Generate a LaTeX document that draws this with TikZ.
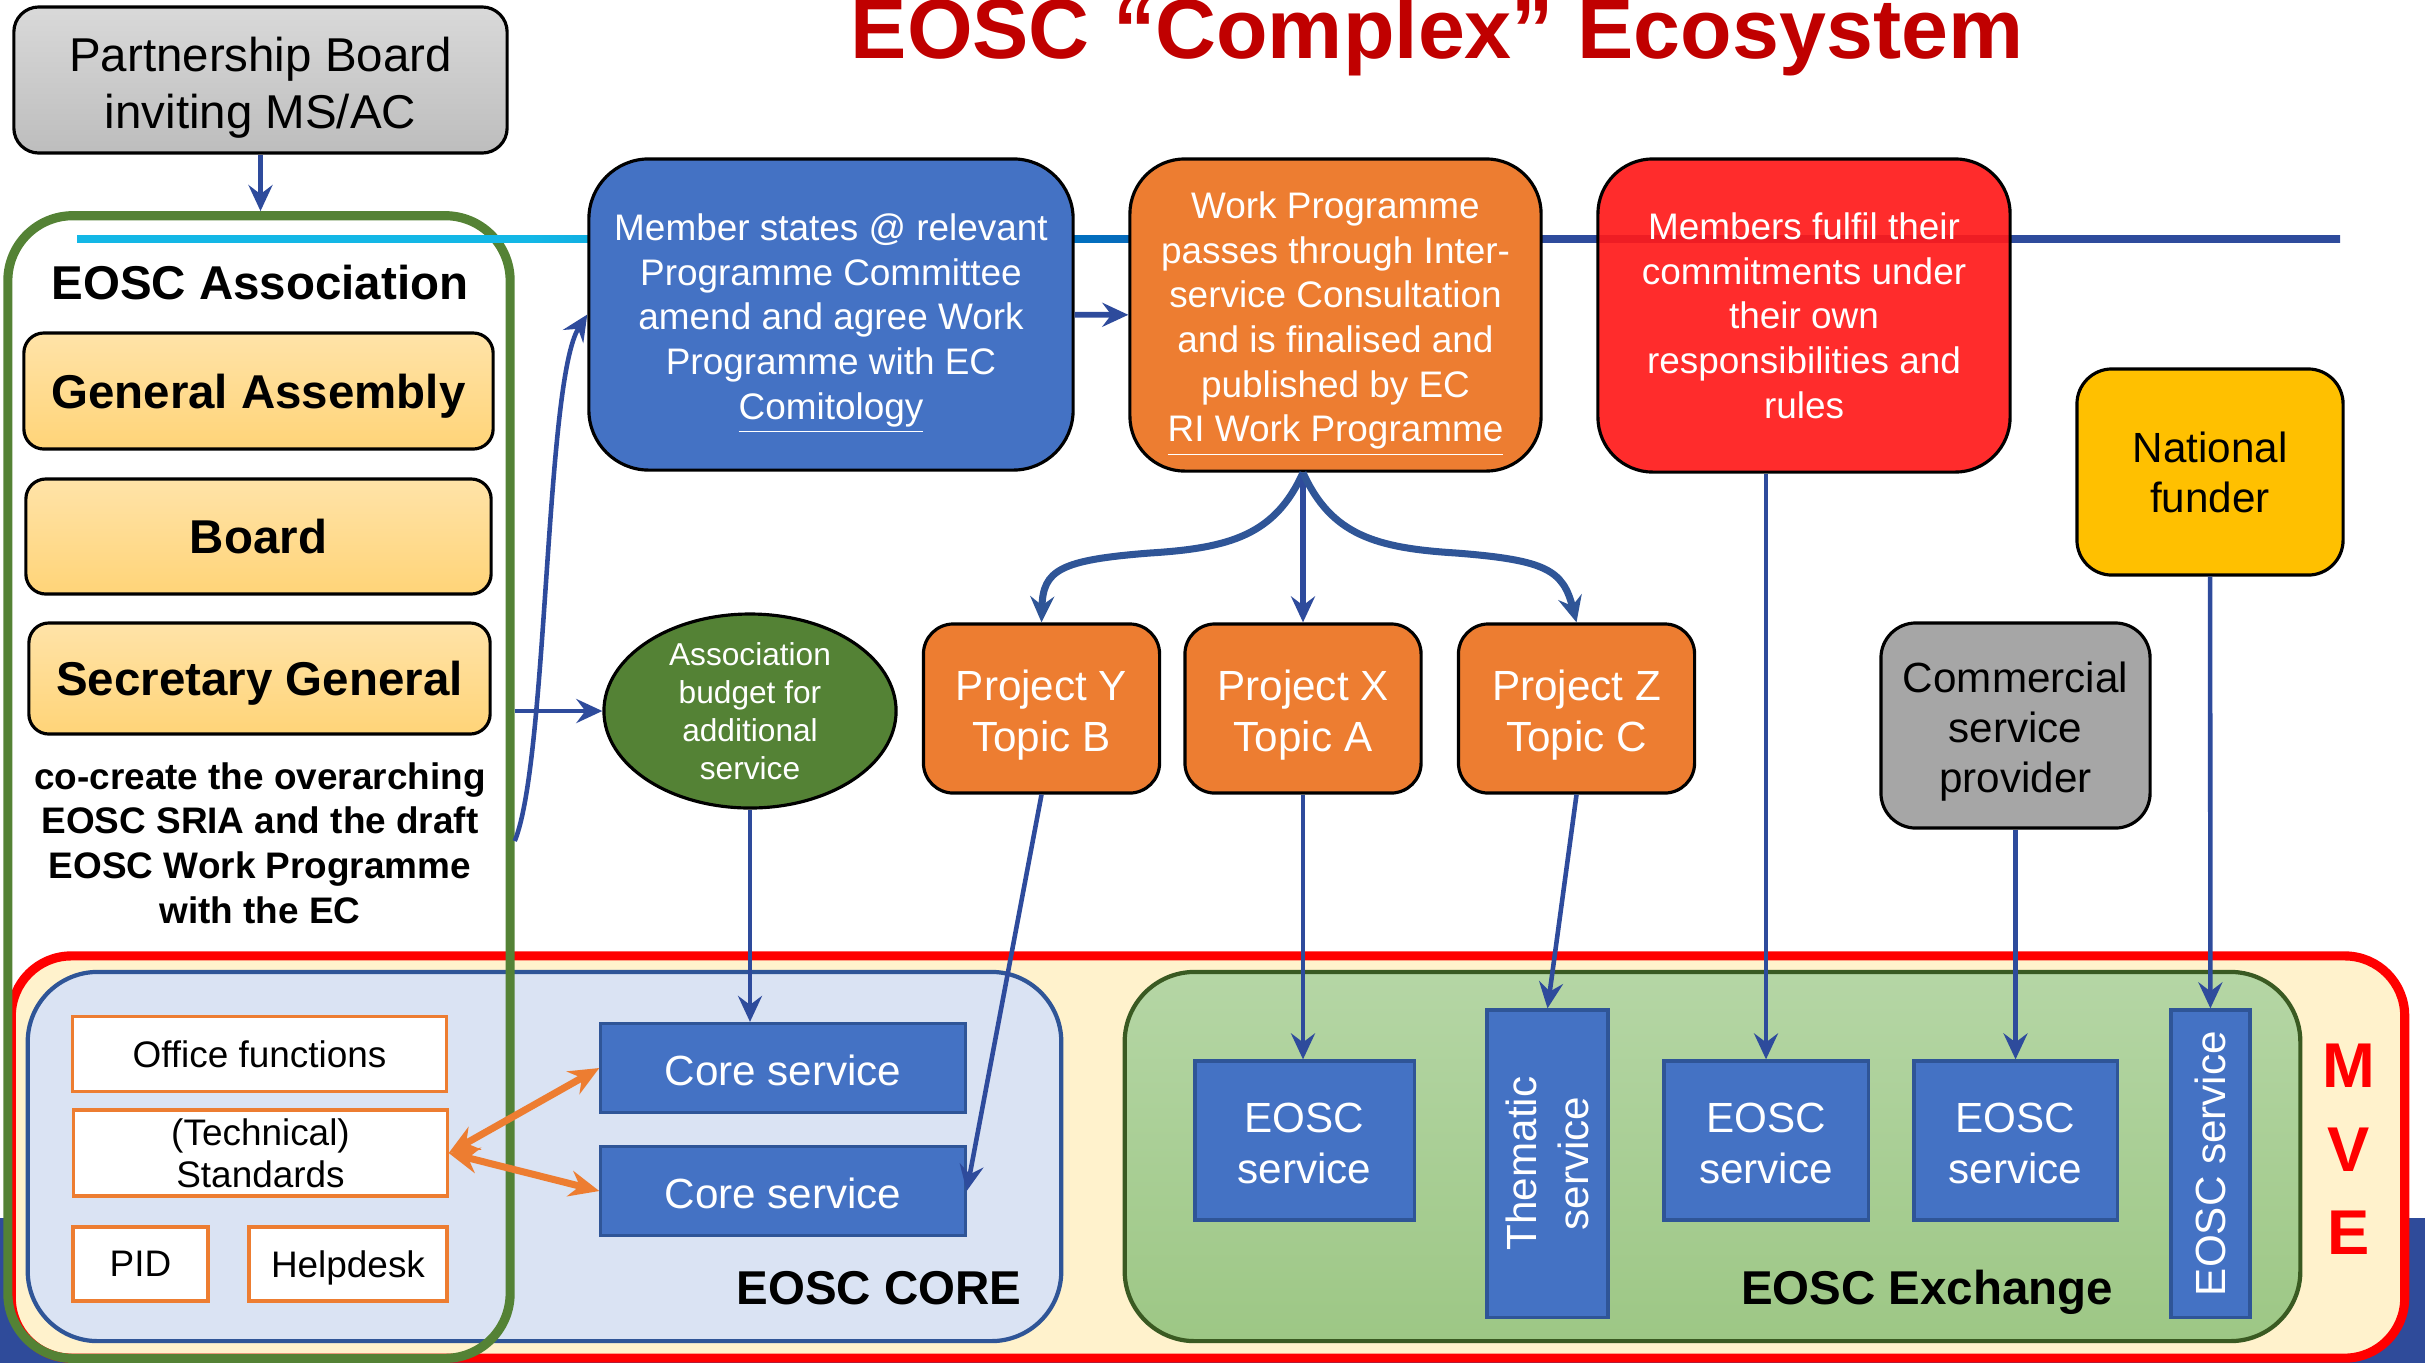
\documentclass[tikz,border=0pt]{standalone}
\usepackage{fontspec}
\setmainfont{Liberation Sans}
\usetikzlibrary{arrows.meta,shapes.geometric}

\definecolor{titlered}{HTML}{C00000}
\definecolor{boxblue}{HTML}{4472C4}
\definecolor{edgeblue}{HTML}{2F5597}
\definecolor{arrowblue}{HTML}{2E4B9C}
\definecolor{wporange}{HTML}{ED7D31}
\definecolor{memred}{HTML}{FF1A1A}
\definecolor{funder}{HTML}{FFC000}
\definecolor{assocgreen}{HTML}{548235}
\definecolor{mvefill}{HTML}{FFF2CC}
\definecolor{corefill}{HTML}{DAE3F3}
\definecolor{exchtop}{HTML}{B5D6A5}
\definecolor{exchbot}{HTML}{9DC785}
\definecolor{exchedge}{HTML}{3A5A22}
\definecolor{gatop}{HTML}{FFE3A8}
\definecolor{gabot}{HTML}{FFD478}
\definecolor{pbtop}{HTML}{D9D9D9}
\definecolor{pbbot}{HTML}{BDBDBD}
\definecolor{commgray}{HTML}{A6A6A6}
\definecolor{linecyan}{HTML}{13B7E6}
\definecolor{linemid}{HTML}{0070C0}
\definecolor{bandblue}{HTML}{2F4B9A}

\pgfdeclarehorizontalshading{topline}{100bp}{color(0bp)=(linecyan); color(35bp)=(linecyan); color(47bp)=(linemid); color(56bp)=(arrowblue); color(100bp)=(arrowblue)}

\newcommand\txthead{\fontsize{13.5}{16.2}\selectfont}
\newcommand\txtbody{\fontsize{10.5}{12.7}\selectfont}
\newcommand\txtmid{\fontsize{12}{14.4}\selectfont}
\newcommand\txttiny{\fontsize{9}{10.8}\selectfont}
\newcommand\topgap[1]{\rule{0pt}{#1}}

\begin{document}
\begin{tikzpicture}[x=0.01cm, y=-0.01cm,
    box/.style={draw=black, line width=0.9pt, align=center, inner sep=0pt},
    svc/.style={draw=edgeblue, line width=0.9pt, fill=boxblue, text=white, align=center, inner sep=0pt, font=\txtmid},
    office/.style={draw=wporange, line width=0.9pt, fill=white, align=center, inner sep=0pt, font=\txtbody},
    gov/.style={box, rounded corners=0.2cm, top color=gatop, bottom color=gabot, font=\bfseries\txthead, text depth=0pt},
    arr/.style={arrowblue, line width=1.3pt, -{Stealth[length=2.6mm,width=2.4mm,inset=0.9mm]}},
    oarr/.style={wporange, line width=2pt, {Stealth[length=3mm,width=2.6mm,inset=1mm]}-{Stealth[length=3mm,width=2.6mm,inset=1mm]}}]
  \useasboundingbox (0,0) rectangle (2425,1363);
  % slide band behind the MVE
  \fill[bandblue] (0,1218) rectangle (2425,1363);

  % MVE with core and exchange
  \node[draw=red, line width=2.6pt, fill=mvefill, rounded corners=0.6cm, minimum width=23.92cm, minimum height=4.02cm] (mve) at (1208,1157) {};
  \node[draw=edgeblue, line width=1.2pt, fill=corefill, rounded corners=0.7cm, minimum width=10.33cm, minimum height=3.69cm] (core) at (544.5,1156.5) {};
  \node[draw=exchedge, line width=1.2pt, top color=exchtop, bottom color=exchbot, rounded corners=0.7cm, minimum width=11.75cm, minimum height=3.69cm] (exch) at (1712.5,1156.5) {};
  \node[font=\bfseries\txthead, anchor=base] (corelbl) at (879,1304) {EOSC CORE};
  \node[font=\bfseries\txthead, anchor=base] (exchlbl) at (1927,1304) {EOSC Exchange};
  \foreach \l/\y in {M/1066, V/1150, E/1233}
  {
    \node[text=red, font=\bfseries\fontsize{18}{18}\selectfont] (mve\l) at (2349,\y) {\l};
  }

  \node[office, minimum width=3.73cm, minimum height=0.75cm] (off) at (259.5,1054) {Office functions};
  \node[office, minimum width=3.73cm, minimum height=0.86cm, font=\fontsize{10.5}{12}\selectfont] (std) at (260.5,1153) {(Technical)\\Standards};
  \node[office, minimum width=1.35cm, minimum height=0.74cm] (pid) at (140.5,1264) {PID};
  \node[office, minimum width=1.98cm, minimum height=0.74cm, text depth=0pt] (help) at (348,1264) {Helpdesk};
  \node[svc, minimum width=3.64cm, minimum height=0.89cm] (cs1) at (783,1068) {\topgap{0.36cm}Core service};
  \node[svc, minimum width=3.64cm, minimum height=0.89cm] (cs2) at (783,1191) {\topgap{0.36cm}Core service};

  \foreach \n/\x/\w in {es1/1304.5/2.19cm, es2/1766/2.04cm, es3/2015.5/2.03cm}
  {
    \node[svc, minimum width=\w, minimum height=1.59cm, font=\fontsize{12}{14.5}\selectfont] (\n) at (\x,1140.5) {\topgap{0.36cm}EOSC\\service};
  }
  \node[svc, minimum width=1.21cm, minimum height=3.07cm] (them) at (1547.5,1163.5) {};
  \node[rotate=90, text=white, align=center, font=\fontsize{12}{15}\selectfont] (themtxt) at (them) {Thematic\\service};
  \node[svc, minimum width=0.79cm, minimum height=3.07cm] (esv) at (2210.5,1163.5) {};
  \node[rotate=90, text=white, font=\txtmid] (esvtxt) at (esv) {EOSC service};

  % association
  \node[draw=assocgreen, line width=2.6pt, rounded corners=0.65cm, minimum width=5.02cm, minimum height=11.42cm] (assoc) at (259,787) {};
  \node[font=\bfseries\txthead, anchor=base] (assoctitle) at (260,299) {EOSC Association};
  \node[gov, minimum width=4.69cm, minimum height=1.16cm] (ga) at (258.5,391) {General Assembly};
  \node[gov, minimum width=4.65cm, minimum height=1.15cm] (board) at (258.5,536.5) {Board};
  \node[gov, minimum width=4.61cm, minimum height=1.11cm] (sg) at (259.5,678.5) {Secretary General};
  \node[font=\bfseries\txtbody, align=center] (cocreate) at (260,843) {co-create the overarching\\EOSC SRIA and the draft\\EOSC Work Programme\\with the EC};

  \shade[shading=topline] (77,235) rectangle (2340,242);

  % top row
  \node[box, minimum width=4.93cm, minimum height=1.46cm, rounded corners=0.25cm, top color=pbtop, bottom color=pbbot, font=\txthead] (pb) at (260.5,80) {\topgap{0.49cm}Partnership Board\\inviting MS/AC};
  \node[box, fill=boxblue, text=white, rounded corners=0.6cm, minimum width=4.84cm, minimum height=3.11cm, font=\txtbody] (memb) at (831,314.5) {\topgap{0.45cm}Member states @ relevant\\Programme Committee\\amend and agree Work\\Programme with EC\\\underline{Comitology}};
  \node[box, fill=wporange, text=white, rounded corners=0.55cm, minimum width=4.11cm, minimum height=3.12cm, font=\txtbody] (wp) at (1335.5,315) {\topgap{0.45cm}Work Programme\\passes through Inter-\\service Consultation\\and is finalised and\\published by EC\\\underline{RI Work Programme}};
  \node[box, fill=memred, fill opacity=0.92, text opacity=1, text=white, rounded corners=0.55cm, minimum width=4.12cm, minimum height=3.13cm, font=\txtbody] (mem) at (1804,315.5) {Members fulfil their\\commitments under\\their own\\responsibilities and\\rules};
  \node[box, fill=funder, rounded corners=0.35cm, minimum width=2.66cm, minimum height=2.06cm, font=\fontsize{12}{14.2}\selectfont] (nf) at (2210,472) {National\\funder};
  \node[box, ellipse, fill=assocgreen, text=white, minimum width=2.92cm, minimum height=1.84cm, font=\txttiny] (budget) at (750,711) {Association\\budget for\\additional\\service};
  \foreach \n/\x/\t in {py/1041.5/{Project Y\\Topic B}, px/1303/{Project X\\Topic A}, pz/1576.5/{Project Z\\Topic C}}
  {
    \node[box, fill=wporange, text=white, rounded corners=0.3cm, minimum width=2.36cm, minimum height=1.69cm, font=\fontsize{12}{14.5}\selectfont] (\n) at (\x,708.5) {\topgap{0.43cm}\t};
  }
  \node[box, fill=commgray, rounded corners=0.35cm, minimum width=2.69cm, minimum height=2.05cm, font=\fontsize{12}{14.3}\selectfont] (comm) at (2015.5,725.5) {\topgap{0.43cm}Commercial\\service\\provider};

  \node[text=titlered, font=\bfseries\fontsize{24}{24}\selectfont, anchor=base] (title) at (1437,58) {EOSC “Complex” Ecosystem};

  % connectors
  \draw[arr] (pb.south) -- (pb.south |- assoc.north);
  \draw[arr, line width=1.4pt] (assoc.east |- budget) -- (budget);
  \draw[arr] (assoc.east |- 0,841) .. controls (548,760) and (545,380) .. (memb.west);
  \draw[arr, line width=1.6pt] (memb) -- (wp);
  \coordinate (wpfoot) at (wp.south -| px.north);
  \draw[arr, edgeblue, line width=2pt] (wpfoot) .. controls (1275,535) and (1230,548) .. (1150,553) .. controls (1060,560) and (1043,570) .. (py.north);
  \draw[arr, line width=1.6pt] (wpfoot) -- (px.north);
  \draw[arr, edgeblue, line width=2pt] (wpfoot) .. controls (1331,535) and (1376,548) .. (1456,553) .. controls (1546,560) and (1563,570) .. (pz.north);
  \draw[arr] (py.south) -- (cs2.east);
  \draw[arr] (px.south) -- (px.south |- es1.north);
  \draw[arr] (pz.south) -- (them.north);
  \draw[arr] (es2.north |- mem.south) -- (es2.north);
  \draw[arr] (comm) -- (es3);
  \draw[arr] (nf) -- (esv);
  \draw[arr] (budget) -- (budget |- cs1.north);
  \draw[oarr] (cs1.west) -- (std.east);
  \draw[oarr] (cs2.west) -- (std.east);
\end{tikzpicture}
\end{document}
